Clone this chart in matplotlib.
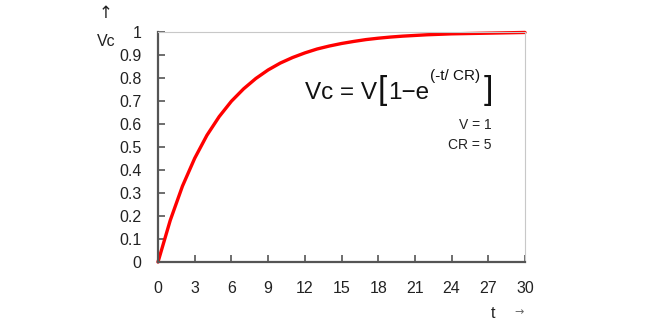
import matplotlib
matplotlib.use("Agg")
import matplotlib.pyplot as plt

# Capacitor charging voltage, V = 1, CR = 5
t_values = list(range(0, 31))
vc_values = [0.000, 0.181, 0.330, 0.451, 0.551, 0.632, 0.699, 0.753, 0.798, 0.835,
             0.865, 0.889, 0.909, 0.926, 0.939, 0.950, 0.959, 0.967, 0.973, 0.978,
             0.982, 0.985, 0.988, 0.990, 0.992, 0.993, 0.994, 0.995, 0.996, 0.997,
             0.998]
x_ticks = [0, 3, 6, 9, 12, 15, 18, 21, 24, 27, 30]
y_ticks = [0, 0.1, 0.2, 0.3, 0.4, 0.5, 0.6, 0.7, 0.8, 0.9, 1]
y_tick_labels = ["0", "0.1", "0.2", "0.3", "0.4", "0.5", "0.6", "0.7", "0.8", "0.9", "1"]

plt.rcParams["font.family"] = ["Liberation Sans", "DejaVu Sans"]
W, H = 651, 331
fig = plt.figure(figsize=(W / 100, H / 100), dpi=100)
ax = fig.add_axes([158 / W, 1 - 262 / H, (525 - 158) / W, (262 - 32) / H])

ax.plot(t_values, vc_values, color="#ff0000", lw=2.4, solid_capstyle="round", clip_on=False)

ax.set_xlim(0, 30)
ax.set_ylim(0, 1)
ax.set_xticks(x_ticks)
ax.set_xticklabels([str(v) for v in x_ticks])
ax.set_yticks(y_ticks)
ax.set_yticklabels(y_tick_labels)

for side in ("left", "bottom"):
    ax.spines[side].set_color("#555555")
    ax.spines[side].set_linewidth(1.6)
for side in ("top", "right"):
    ax.spines[side].set_color("#c8c8c8")
    ax.spines[side].set_linewidth(0.8)

ax.tick_params(axis="x", direction="in", length=5, width=1.2, color="#555555",
               pad=14, labelsize=11.5, labelcolor="#222222")
ax.tick_params(axis="y", direction="in", length=5, width=1.2, color="#555555",
               pad=12, labelsize=11.5, labelcolor="#222222")


def px(x, y):
    return x / W, 1 - y / H


# Axis captions
fig.text(*px(106, 13), "\u2191", ha="center", va="center", fontsize=12,
         family="DejaVu Sans", color="#222222")
fig.text(*px(106, 41), "Vc", ha="center", va="center", fontsize=11.5, color="#222222")
fig.text(*px(493, 314), "t", ha="center", va="center", fontsize=11.5, color="#222222")
fig.text(*px(519, 312), "\u2192", ha="center", va="center", fontsize=8,
         family="DejaVu Sans", color="#666666")

# Formula built from consecutive pieces
renderer = fig.canvas.get_renderer()
pieces = [
    ("Vc = V", 17.5, 93, 0),
    ("[", 24, 91, 1),
    ("1\u2212e", 17.5, 93, 0),
    ("(-t/ CR)", 11, 76, 1),
    ("]", 24, 91, 2),
]
x_cursor = 305
for text, size, y, gap in pieces:
    t = fig.text(*px(x_cursor + gap, y), text, ha="left", va="center",
                 fontsize=size, color="#111111")
    bb = t.get_window_extent(renderer)
    x_cursor = bb.x1 + gap

fig.text(*px(492, 125), "V = 1", ha="right", va="center", fontsize=10, color="#222222")
fig.text(*px(492, 145), "CR = 5", ha="right", va="center", fontsize=10, color="#222222")

fig.savefig("out.png", dpi=100)
